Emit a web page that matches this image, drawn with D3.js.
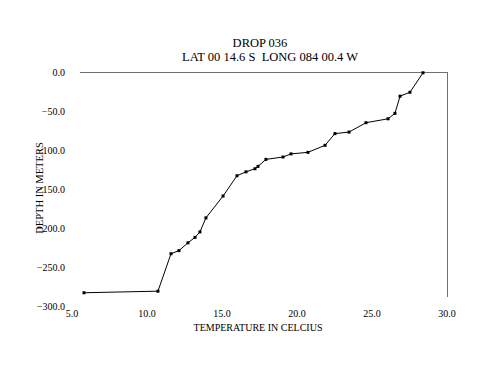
<!DOCTYPE html>
<html>
<head>
<meta charset="utf-8">
<script src="https://cdn.jsdelivr.net/npm/d3@7"></script>
<style>
  html, body { margin: 0; padding: 0; background: #fff; }
  svg { display: block; }
  text { font-family: "Liberation Serif", "Times New Roman", serif; fill: #000; white-space: pre; }
</style>
</head>
<body>
<svg id="chart" width="500" height="386"></svg>
<script>
// Data
const temperature = [5.8, 10.73, 11.6, 12.13, 12.73, 13.2, 13.53, 13.93, 15.07, 16.0, 16.6, 17.2, 17.4, 17.93, 19.07, 19.6, 20.73, 21.87, 22.53, 23.47, 24.6, 26.07, 26.53, 26.87, 27.53, 28.4];
const depth = [-283, -281, -233, -229, -219, -212, -205, -187, -159, -133, -128, -124, -121, -112, -109, -105, -103, -94, -79, -77, -65, -60, -53, -31, -26, -1];
const xTicks = [5, 10, 15, 20, 25, 30];
const yTicks = [0, -50, -100, -150, -200, -250, -300];
const titleLines = ["DROP 036", "LAT 00 14.6 S  LONG 084 00.4 W"];
const xTitle = "TEMPERATURE IN CELCIUS";
const yTitle = "DEPTH IN METERS";

const svg = d3.select("#chart");
const x = d3.scaleLinear().domain([5, 30]).range([72, 447]);
const y = d3.scaleLinear().domain([-300, 0]).range([306, 72]);

// Frame (top and right only, gray)
svg.append("path")
  .attr("d", `M${80},${y(0)}H${x(30)}V${297}`)
  .attr("fill", "none").attr("stroke", "#707070").attr("stroke-width", 1)
  .attr("shape-rendering", "crispEdges");

// Title
svg.append("text").attr("x", 260).attr("y", 47).attr("text-anchor", "middle")
  .attr("xml:space", "preserve")
  .style("font-size", "12.5px").text(titleLines[0]);
svg.append("text").attr("x", 270).attr("y", 61).attr("text-anchor", "middle")
  .attr("xml:space", "preserve")
  .style("font-size", "12.5px").text(titleLines[1]);

// X tick labels
const fmt = d3.format(".1f");
svg.append("g").selectAll("text").data(xTicks).join("text")
  .attr("x", d => x(d)).attr("y", 317).attr("text-anchor", "middle")
  .style("font-size", "10px").text(d => fmt(d));

// Y tick labels
svg.append("g").selectAll("text").data(yTicks).join("text")
  .attr("x", 65).attr("y", d => y(d) + 3.5).attr("text-anchor", "end")
  .style("font-size", "10px").text(d => fmt(d));

// Axis titles
svg.append("text").attr("x", 258).attr("y", 331).attr("text-anchor", "middle")
  .style("font-size", "10px").text(xTitle);
svg.append("text").attr("transform", `translate(43,188) rotate(-90)`)
  .attr("text-anchor", "middle").style("font-size", "10.5px").text(yTitle);

// Line
const pts = temperature.map((t, i) => [t, depth[i]]);
svg.append("path").datum(pts)
  .attr("d", d3.line().x(d => x(d[0])).y(d => y(d[1])))
  .attr("fill", "none").attr("stroke", "#000").attr("stroke-width", 1);

// Markers
svg.append("g").selectAll("rect").data(pts).join("rect")
  .attr("x", d => x(d[0]) - 1.5).attr("y", d => y(d[1]) - 1.5)
  .attr("width", 3).attr("height", 3).attr("fill", "#000");
</script>
</body>
</html>
